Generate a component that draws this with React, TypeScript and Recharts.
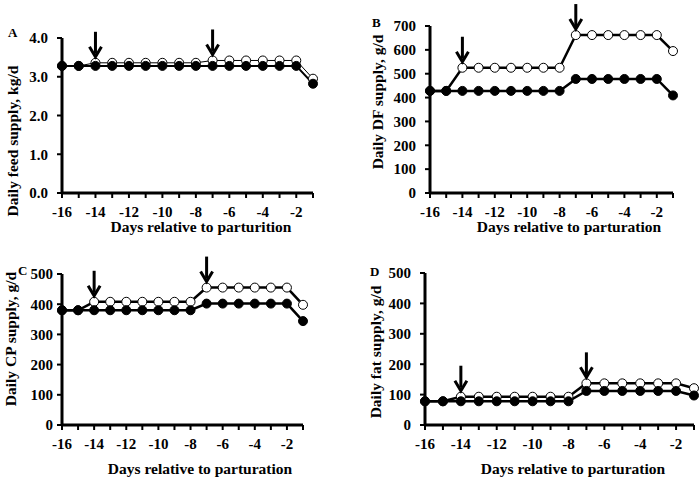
import React from 'react';
import { LineChart, Line, XAxis, YAxis, ReferenceDot, Label } from 'recharts';

const days = [-16, -15, -14, -13, -12, -11, -10, -9, -8, -7, -6, -5, -4, -3, -2, -1];
const arrowDays = [-14, -7];

// Panel A: daily feed supply, kg/d
const feedOpen = [3.28, 3.28, 3.36, 3.36, 3.36, 3.36, 3.36, 3.36, 3.36, 3.42, 3.42, 3.42, 3.42, 3.42, 3.42, 2.95];
const feedFilled = [3.28, 3.28, 3.28, 3.28, 3.28, 3.28, 3.28, 3.28, 3.28, 3.28, 3.28, 3.28, 3.28, 3.28, 3.28, 2.82];
const feedTicks = [0, 1, 2, 3, 4];

// Panel B: daily DF supply, g/d
const dfOpen = [428, 428, 525, 525, 525, 525, 525, 525, 525, 662, 662, 662, 662, 662, 662, 595];
const dfFilled = [428, 428, 428, 428, 428, 428, 428, 428, 428, 478, 478, 478, 478, 478, 478, 409];
const dfTicks = [0, 100, 200, 300, 400, 500, 600, 700];

// Panel C: daily CP supply, g/d
const cpOpen = [380, 380, 408, 408, 408, 408, 408, 408, 408, 455, 455, 455, 455, 455, 455, 398];
const cpFilled = [380, 380, 380, 380, 380, 380, 380, 380, 380, 402, 402, 402, 402, 402, 402, 344];
const cpTicks = [0, 100, 200, 300, 400, 500];

// Panel D: daily fat supply, g/d
const fatOpen = [78, 78, 93, 93, 93, 93, 93, 93, 93, 137, 137, 137, 137, 137, 137, 121];
const fatFilled = [78, 78, 78, 78, 78, 78, 78, 78, 78, 112, 112, 112, 112, 112, 112, 97];
const fatTicks = [0, 100, 200, 300, 400, 500];

const FONT = '"Liberation Serif", "Times New Roman", serif';
const tickStyle = { fontFamily: FONT, fontWeight: 700, fontSize: 15, fill: '#000' };

const Arrow = (props: any) => {
  const { cx, cy } = props;
  if (cx == null || cy == null) return null;
  const tip = cy - 6;
  return (
    <g>
      <line x1={cx} x2={cx} y1={tip - 25} y2={tip - 3} stroke="#000" strokeWidth={3} />
      <polyline
        points={`${cx - 6},${tip - 10} ${cx},${tip} ${cx + 6},${tip - 10}`}
        fill="none"
        stroke="#000"
        strokeWidth={3}
      />
    </g>
  );
};

type PanelProps = {
  left: number;
  top: number;
  open: number[];
  filled: number[];
  yTicks: number[];
  yFmt: (v: number) => string;
  yTickMargin: number;
  margin: { top: number; right: number; bottom: number; left: number };
  openWidth: number;
  filledWidth: number;
  yLabel: string;
  yLabelPos: [number, number];
  letter: string;
  letterPos: [number, number];
  title: string;
  titlePos: [number, number];
};

function Panel(p: PanelProps) {
  const data = days.map((d, i) => ({ day: d, open: p.open[i], filled: p.filled[i] }));
  return (
    <div style={{ position: 'absolute', left: p.left, top: p.top, width: 350, height: 240 }}>
      <LineChart width={350} height={240} data={data} margin={p.margin}>
        <XAxis
          dataKey="day"
          type="number"
          domain={[-16, -1]}
          ticks={days}
          interval={0}
          tickFormatter={(v: number) => (v % 2 === 0 ? String(v) : '')}
          axisLine={{ stroke: '#000', strokeWidth: 3 }}
          tickLine={{ stroke: '#000', strokeWidth: 2 }}
          tickSize={5}
          tickMargin={8}
          height={30}
          tick={tickStyle}
        >
          <Label
            content={() => (
              <text
                x={p.titlePos[0]}
                y={p.titlePos[1]}
                textAnchor="middle"
                fontFamily={FONT}
                fontWeight={700}
                fontSize={15.5}
                fill="#000"
              >
                {p.title}
              </text>
            )}
          />
        </XAxis>
        <YAxis
          type="number"
          domain={[p.yTicks[0], p.yTicks[p.yTicks.length - 1]]}
          ticks={p.yTicks}
          interval={0}
          tickFormatter={p.yFmt}
          axisLine={{ stroke: '#000', strokeWidth: 3 }}
          tickLine={{ stroke: '#000', strokeWidth: 2 }}
          tickSize={5}
          tickMargin={p.yTickMargin}
          width={40}
          tick={tickStyle}
        >
          <Label
            content={() => (
              <g>
                <text
                  x={p.yLabelPos[0]}
                  y={p.yLabelPos[1]}
                  transform={`rotate(-90, ${p.yLabelPos[0]}, ${p.yLabelPos[1]})`}
                  textAnchor="middle"
                  dominantBaseline="central"
                  fontFamily={FONT}
                  fontWeight={700}
                  fontSize={15.5}
                  fill="#000"
                >
                  {p.yLabel}
                </text>
                <text
                  x={p.letterPos[0]}
                  y={p.letterPos[1]}
                  fontFamily={FONT}
                  fontWeight={700}
                  fontSize={13}
                  fill="#000"
                >
                  {p.letter}
                </text>
              </g>
            )}
          />
        </YAxis>
        <Line
          dataKey="open"
          type="linear"
          stroke="#000"
          strokeWidth={p.openWidth}
          dot={{ r: 4.5, fill: '#fff', stroke: '#000', strokeWidth: 1 }}
          activeDot={false}
          isAnimationActive={false}
        />
        <Line
          dataKey="filled"
          type="linear"
          stroke="#000"
          strokeWidth={p.filledWidth}
          dot={{ r: 4.5, fill: '#000', stroke: '#000', strokeWidth: 1 }}
          activeDot={false}
          isAnimationActive={false}
        />
        {arrowDays.map((d) => (
          <ReferenceDot
            key={d}
            x={d}
            y={p.open[days.indexOf(d)]}
            ifOverflow="visible"
            shape={Arrow}
          />
        ))}
      </LineChart>
    </div>
  );
}

export default function App() {
  return (
    <div style={{ position: 'absolute', left: 0, top: 0, width: 700, height: 479, background: '#fff', overflow: 'hidden' }}>
      <Panel
        left={0}
        top={0}
        open={feedOpen}
        filled={feedFilled}
        yTicks={feedTicks}
        yFmt={(v) => v.toFixed(1)}
        yTickMargin={9}
        margin={{ top: 38, right: 37, bottom: 17, left: 22 }}
        openWidth={1}
        filledWidth={2}
        yLabel="Daily feed supply, kg/d"
        yLabelPos={[12, 141]}
        letter="A"
        letterPos={[8, 37]}
        title="Days relative to parturition"
        titlePos={[201, 232]}
      />
      <Panel
        left={350}
        top={0}
        open={dfOpen}
        filled={dfFilled}
        yTicks={dfTicks}
        yFmt={(v) => String(v)}
        yTickMargin={9}
        margin={{ top: 26, right: 27, bottom: 17, left: 40 }}
        openWidth={2.5}
        filledWidth={2.5}
        yLabel="Daily DF supply, g/d"
        yLabelPos={[27, 102]}
        letter="B"
        letterPos={[22, 27]}
        title="Days relative to parturation"
        titlePos={[219, 232]}
      />
      <Panel
        left={0}
        top={240}
        open={cpOpen}
        filled={cpFilled}
        yTicks={cpTicks}
        yFmt={(v) => String(v)}
        yTickMargin={4}
        margin={{ top: 34, right: 47, bottom: 25, left: 22 }}
        openWidth={2.5}
        filledWidth={2.5}
        yLabel="Daily CP supply, g/d"
        yLabelPos={[10, 99]}
        letter="C"
        letterPos={[18, 35]}
        title="Days relative to parturation"
        titlePos={[200, 234]}
      />
      <Panel
        left={350}
        top={240}
        open={fatOpen}
        filled={fatFilled}
        yTicks={fatTicks}
        yFmt={(v) => String(v)}
        yTickMargin={9}
        margin={{ top: 33, right: 6, bottom: 25, left: 35 }}
        openWidth={2.5}
        filledWidth={2.5}
        yLabel="Daily fat supply, g/d"
        yLabelPos={[25, 112]}
        letter="D"
        letterPos={[20, 36]}
        title="Days relative to parturation"
        titlePos={[223, 234]}
      />
    </div>
  );
}
